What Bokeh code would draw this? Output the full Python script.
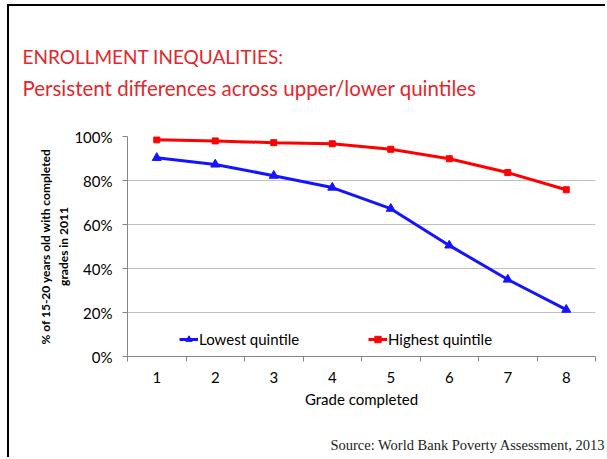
from bokeh.plotting import figure
from bokeh.models import (Range1d, FixedTicker, NumeralTickFormatter, Title,
                          Legend, LegendItem)
from bokeh.embed import file_html
from bokeh.resources import INLINE

# ---- data ----
grades = [1, 2, 3, 4, 5, 6, 7, 8]
grade_labels = ["1", "2", "3", "4", "5", "6", "7", "8"]
lowest_quintile = [0.903, 0.873, 0.822, 0.768, 0.672, 0.505, 0.350, 0.213]
highest_quintile = [0.985, 0.980, 0.972, 0.967, 0.942, 0.899, 0.836, 0.758]
y_ticks = [0.0, 0.2, 0.4, 0.6, 0.8, 1.0]

title_1 = "ENROLLMENT INEQUALITIES:"
title_2 = "Persistent differences across upper/lower quintiles"
y_label = "% of 15-20 years old with completed\ngrades in 2011"
x_label = "Grade completed"
source = "Source: World Bank Poverty Assessment, 2013"

FONT = "Lato"
RED = "#FF0000"
BLUE = "#1414FF"
TITLE_RED = "#E0282E"

W, H = 598, 453
p = figure(width=W, height=H, output_backend="svg", toolbar_location=None,
           x_range=Range1d(0.5, 8.5), y_range=Range1d(0, 1),
           min_border_left=118, min_border_right=12,
           min_border_top=130, min_border_bottom=103)
p.styles = {"margin-left": "7px", "margin-top": "4px",
            "border-left": "2px solid black", "border-top": "2px solid black"}
p.outline_line_color = None
p.background_fill_color = "white"
p.border_fill_color = "white"

# grid
p.xgrid.grid_line_color = None
p.ygrid.grid_line_color = "#BFBFBF"
p.ygrid.ticker = FixedTicker(ticks=y_ticks)

# y axis
ya = p.yaxis[0]
ya.ticker = FixedTicker(ticks=y_ticks)
ya.formatter = NumeralTickFormatter(format="0%")
ya.axis_line_color = "#868686"
ya.major_tick_line_color = "#868686"
ya.major_tick_out = 5
ya.major_tick_in = 0
ya.minor_tick_line_color = None
ya.major_label_standoff = 10
ya.major_label_text_font = FONT
ya.major_label_text_font_size = "15px"
ya.major_label_text_color = "black"
ya.axis_label = y_label
ya.axis_label_text_font = FONT
ya.axis_label_text_font_style = "bold"
ya.axis_label_text_font_size = "12px"
ya.axis_label_text_color = "black"
ya.axis_label_standoff = 0

# x axis
xa = p.xaxis[0]
xa.ticker = FixedTicker(ticks=grades,
                        minor_ticks=[g - 0.5 for g in grades] + [grades[-1] + 0.5])
xa.major_label_overrides = {g: l for g, l in zip(grades, grade_labels)}
xa.axis_line_color = "#868686"
xa.major_tick_line_color = None
xa.major_tick_out = 5
xa.major_tick_in = 0
xa.minor_tick_line_color = "#868686"
xa.minor_tick_out = 5
xa.minor_tick_in = 0
xa.major_label_standoff = 10
xa.major_label_text_font = FONT
xa.major_label_text_font_size = "15px"
xa.major_label_text_color = "black"
xa.axis_label = x_label
xa.axis_label_text_font = FONT
xa.axis_label_text_font_style = "normal"
xa.axis_label_text_font_size = "15px"
xa.axis_label_text_color = "black"
xa.axis_label_standoff = 4

# series
bl = p.line(grades, lowest_quintile, line_color=BLUE, line_width=3)
bs = p.scatter(grades, lowest_quintile, marker="triangle", size=9,
               fill_color=BLUE, line_color=BLUE)
rl = p.line(grades, highest_quintile, line_color=RED, line_width=3)
rs = p.scatter(grades, highest_quintile, marker="square", size=6,
               fill_color=RED, line_color=RED)

# legends
def make_legend(label, renderers, loc):
    return Legend(items=[LegendItem(label=label, renderers=renderers)],
                  location=loc, orientation="horizontal", padding=0, margin=0,
                  border_line_color=None, background_fill_alpha=0,
                  glyph_width=19, glyph_height=16, label_height=16,
                  label_standoff=1, label_text_font=FONT,
                  label_text_font_size="15px", label_text_color="black")

p.add_layout(make_legend("Lowest quintile", [bl, bs], (52, 8)), "center")
p.add_layout(make_legend("Highest quintile", [rl, rs], (241, 8)), "center")

# titles (line 2 first: nearest the plot); padding is (left, right, top, bottom)
p.add_layout(Title(text=title_2, align="left", offset=-105, standoff=0,
                   padding=(0, 0, 0, 37),
                   text_font=FONT, text_font_size="20.5px",
                   text_font_style="normal", text_color=TITLE_RED), "above")
p.add_layout(Title(text=title_1, align="left", offset=-105, standoff=0,
                   padding=(0, 0, 0, 6),
                   text_font=FONT, text_font_size="19px",
                   text_font_style="normal", text_color=TITLE_RED), "above")

# source note
p.add_layout(Title(text=source, align="right", offset=-10, standoff=0,
                   padding=(0, 0, 24, 0),
                   text_font="Liberation Serif", text_font_size="14.5px",
                   text_font_style="normal", text_color="#222222"), "below")

open("out.html", "w").write(file_html(p, INLINE))
